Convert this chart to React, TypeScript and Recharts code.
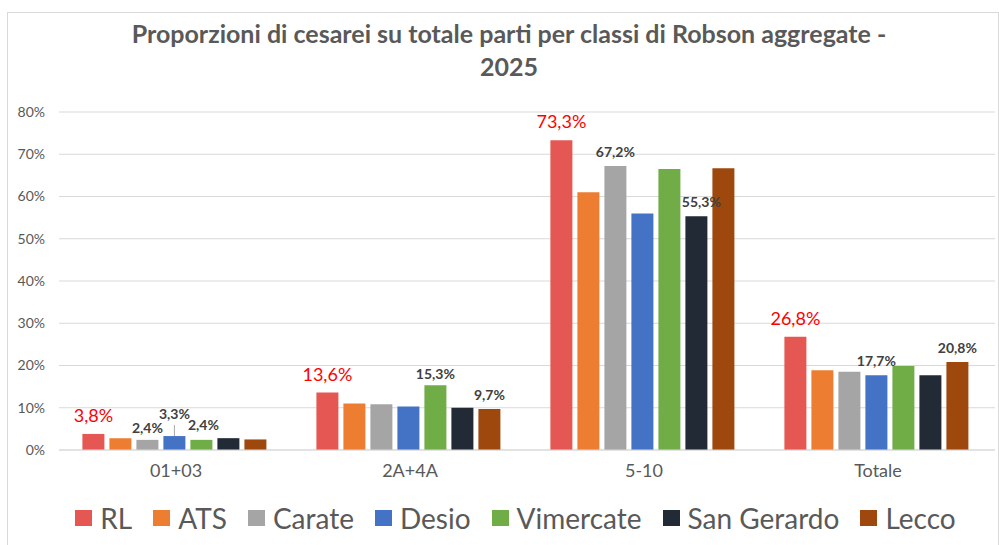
import { BarChart, Bar, XAxis, YAxis, CartesianGrid, Legend, LabelList } from "recharts";

const categorie = ["01+03", "2A+4A", "5-10", "Totale"];

const rl = [3.8, 13.6, 73.3, 26.8];
const ats = [2.8, 11.0, 61.0, 18.9];
const carate = [2.4, 10.8, 67.2, 18.5];
const desio = [3.3, 10.3, 56.0, 17.7];
const vimercate = [2.4, 15.3, 66.5, 19.9];
const sanGerardo = [2.8, 10.0, 55.3, 17.7];
const lecco = [2.5, 9.7, 66.7, 20.8];

const yTicks = [0, 10, 20, 30, 40, 50, 60, 70, 80];

// quali barre hanno l'etichetta del valore
const etichette: Record<string, number[]> = {
  RL: [0, 1, 2, 3],
  ATS: [],
  Carate: [0, 2],
  Desio: [0, 3],
  Vimercate: [0, 1],
  "San Gerardo": [2],
  Lecco: [1, 3],
};

const serie = [
  { key: "RL", valori: rl, colore: "#E55753" },
  { key: "ATS", valori: ats, colore: "#ED7D31" },
  { key: "Carate", valori: carate, colore: "#A5A5A5" },
  { key: "Desio", valori: desio, colore: "#4472C4" },
  { key: "Vimercate", valori: vimercate, colore: "#70AD47" },
  { key: "San Gerardo", valori: sanGerardo, colore: "#222A35" },
  { key: "Lecco", valori: lecco, colore: "#9E480E" },
];

const data = categorie.map((c, i) => {
  const row: Record<string, string | number> = { classe: c };
  serie.forEach((s) => (row[s.key] = s.valori[i]));
  return row;
});

const grigio = "#595959";
const font = "Lato, 'Noto Sans', sans-serif";

// piccoli spostamenti delle etichette come nel grafico originale
const spostamenti: Record<string, { dx: number; dy: number }> = {
  "Vimercate-0": { dx: 2, dy: 0 },
  "San Gerardo-2": { dx: 5, dy: 0 },
  "Carate-0": { dx: 0, dy: 3 },
  "Vimercate-1": { dx: 0, dy: 3 },
};

const fmt = (v: number) => `${v.toFixed(1).replace(".", ",")}%`;

const makeLabel = (nome: string) => (props: any) => {
  const { x, y, width, value, index } = props;
  if (!etichette[nome].includes(index)) return null;
  const cx = Number(x) + Number(width) / 2;
  const top = Number(y);
  if (nome === "RL") {
    return (
      <text x={cx} y={top - 19} textAnchor="middle" dominantBaseline="central" fill="#FF0000" fontSize={18} fontFamily={font}>
        {fmt(Number(value))}
      </text>
    );
  }
  const sp = spostamenti[`${nome}-${index}`] || { dx: 0, dy: 0 };
  if (nome === "Desio" && index === 0) {
    return (
      <g>
        <line x1={cx} x2={cx} y1={top - 11} y2={top} stroke="#A6A6A6" strokeWidth={1} />
        <text x={cx} y={top - 23} textAnchor="middle" dominantBaseline="central" fill="#404040" fontSize={14} fontWeight="bold" fontFamily={font}>
          {fmt(Number(value))}
        </text>
      </g>
    );
  }
  return (
    <text x={cx + sp.dx} y={top - 15 + sp.dy} textAnchor="middle" dominantBaseline="central" fill="#404040" fontSize={14} fontWeight="bold" fontFamily={font}>
      {fmt(Number(value))}
    </text>
  );
};

// legenda nell'ordine delle serie
const renderLegend = () => (
  <div style={{ display: "flex", justifyContent: "center", alignItems: "center", fontFamily: font }}>
    {serie.map((s) => (
      <div key={s.key} style={{ display: "flex", alignItems: "center", marginRight: 21 }}>
        <span style={{ width: 17, height: 16, background: s.colore, display: "inline-block", marginRight: 8 }} />
        <span style={{ fontSize: 28, color: grigio, lineHeight: "32px" }}>{s.key}</span>
      </div>
    ))}
  </div>
);

const App = () => {
  return (
    <div style={{ position: "absolute", left: 0, top: 0, width: 999, height: 545, background: "#fff", overflow: "hidden", fontFamily: font }}>
      <div style={{ position: "absolute", left: 7, top: 12, width: 990, height: 560, border: "1px solid #D9D9D9" }} />
      <div style={{ position: "absolute", left: 0, top: 17, width: 1018, textAlign: "center", color: grigio, fontWeight: "bold", fontSize: 25, lineHeight: "33px" }}>
        <div>Proporzioni di cesarei su totale parti per classi di Robson aggregate -</div>
        <div>2025</div>
      </div>
      <BarChart
        width={999}
        height={545}
        data={data}
        margin={{ top: 112, right: 4, left: 0, bottom: 65 }}
        barCategoryGap="10%"
        barGap={5}
        style={{ position: "absolute", left: 0, top: 0 }}
      >
        <CartesianGrid vertical={false} stroke="#D9D9D9" />
        <XAxis
          dataKey="classe"
          tickLine={false}
          axisLine={{ stroke: "#D9D9D9" }}
          tickMargin={8}
          height={30}
          tick={{ fontSize: 18, fill: grigio, fontFamily: font }}
        />
        <YAxis
          domain={[0, 80]}
          ticks={yTicks}
          width={59}
          tickLine={false}
          axisLine={false}
          tickMargin={8}
          tickFormatter={(v: number) => `${v}%`}
          tick={{ fontSize: 14, fill: grigio, fontFamily: font }}
        />
        <Legend
          layout="horizontal"
          verticalAlign="middle"
          align="center"
          content={renderLegend}
          wrapperStyle={{ top: 502, left: 41, width: 970 }}
        />
        {serie.map((s) => (
          <Bar key={s.key} dataKey={s.key} name={s.key} fill={s.colore} isAnimationActive={false}>
            <LabelList dataKey={s.key} content={makeLabel(s.key)} />
          </Bar>
        ))}
      </BarChart>
    </div>
  );
};

export default App;
